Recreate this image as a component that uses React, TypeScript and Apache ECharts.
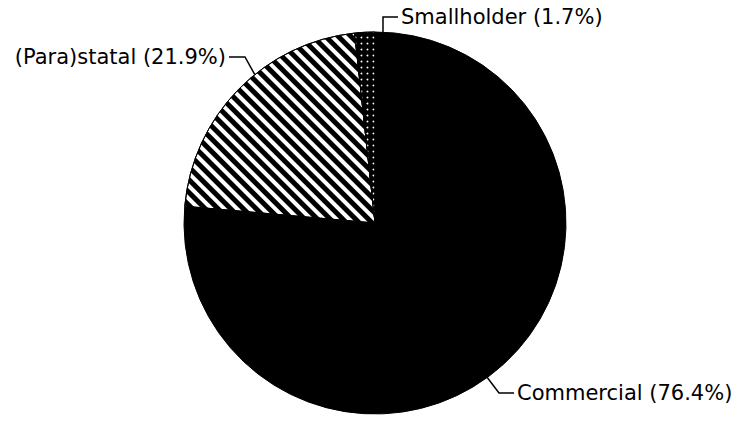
import React, { useEffect, useRef } from "react";
import * as echarts from "echarts";

const categories = ["Commercial", "(Para)statal", "Smallholder"];
const shares = [76.4, 21.9, 1.7];

const CX = 375;
const CY = 223;
const R = 191;

// label anchor placements (layout only); edgeAngle in degrees clockwise from 12 o'clock
const labelSpots = [
  { x: 517, y: 393, align: "left", elbow: [[499, 393], [514, 393]], edgeAngle: 144 },
  { x: 226, y: 57, align: "right", elbow: [[245, 57], [229, 57]], edgeAngle: -39 },
  { x: 401, y: 17, align: "left", elbow: [[383, 17], [398, 17]], edgeAngle: 2.4 },
];

export default function App() {
  const ref = useRef<HTMLDivElement>(null);
  useEffect(() => {
    document.body.style.margin = "0";
    const chart = echarts.init(ref.current!, null, { renderer: "svg" });
    const stripes = {
      symbol: "rect",
      color: "#000",
      dashArrayX: [1, 0],
      dashArrayY: [5, 4],
      rotation: Math.PI / 4,
    };
    const dots = {
      symbol: "circle",
      color: "#fff",
      symbolSize: 0.6,
      dashArrayX: [3, 3],
      dashArrayY: [3, 3],
    };
    chart.setOption({
      animation: false,
      backgroundColor: "#fff",
      series: [
        {
          type: "pie",
          center: [CX, CY],
          radius: R,
          startAngle: 90,
          clockwise: true,
          avoidLabelOverlap: false,
          itemStyle: { borderColor: "#000", borderWidth: 1 },
          label: {
            show: true,
            formatter: (p: any) => `${p.name} (${p.value.toFixed(1)}%)`,
            color: "#000",
            fontFamily: "DejaVu Sans",
            fontSize: 21,
          },
          labelLine: { show: true, lineStyle: { color: "#000", width: 1.5 } },
          labelLayout: (params: any) => {
            const s = labelSpots[params.dataIndex];
            const a = (s.edgeAngle * Math.PI) / 180;
            const start = [CX + R * Math.sin(a), CY - R * Math.cos(a)];
            return {
              x: s.x,
              y: s.y,
              align: s.align,
              verticalAlign: "middle",
              labelLinePoints: [start, s.elbow[0], s.elbow[1]],
            };
          },
          data: categories.map((c, i) => ({
            name: c,
            value: shares[i],
            itemStyle:
              i === 0
                ? { color: "#000" }
                : i === 1
                ? { color: "#fff", decal: stripes }
                : { color: "#000", decal: dots },
          })),
        },
      ],
    });
    return () => chart.dispose();
  }, []);
  return <div ref={ref} style={{ width: 735, height: 421 }} />;
}
